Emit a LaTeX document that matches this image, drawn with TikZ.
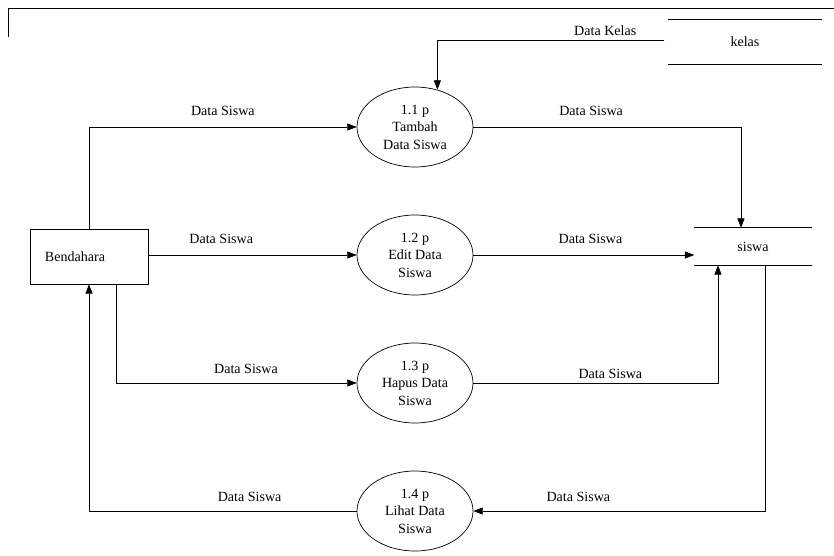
\documentclass[tikz,border=0pt]{standalone}
\usepackage{fontspec}
\setmainfont{Liberation Serif}
\usetikzlibrary{shapes.geometric,arrows.meta,calc}

\tikzset{
    proc/.style={draw, ellipse, line width=0.6pt, minimum width=3.48cm, minimum height=2.4cm, inner sep=0pt, align=center, font=\fontsize{12}{15}\selectfont},
    ext/.style={draw, rectangle, line width=0.6pt, minimum width=3.54cm, minimum height=1.65cm, inner xsep=0.45cm, text width=2.64cm, align=left, font=\fontsize{12}{15}\selectfont},
    store/.style={rectangle, inner sep=0pt, font=\fontsize{12}{15}\selectfont},
    flow/.style={line width=0.6pt, -{Triangle[length=8pt,width=6pt]}},
    lbl/.style={font=\fontsize{12}{15}\selectfont, fill=none}
}

\begin{document}
\begin{tikzpicture}[x=0.03cm, y=-0.03cm]
    \useasboundingbox (0,0) rectangle (834,555);

    % Frame at the top
    \draw[line width=0.6pt] (8,37) -- (8,8) -- (834,8);

    % Processes
    \node[proc] (p1) at (415,127) {1.1 p\\Tambah\\Data Siswa};
    \node[proc] (p2) at (415,255) {1.2 p\\Edit Data\\Siswa};
    \node[proc] (p3) at (415,383) {1.3 p\\Hapus Data\\Siswa};
    \node[proc] (p4) at (415,511) {1.4 p\\Lihat Data\\Siswa};

    % External entity
    \node[ext] (bend) at (89,256.5) {Bendahara};

    % Data stores
    \node[store, minimum width=4.59cm, minimum height=1.35cm] (kelas) at (745,42) {kelas};
    \draw[line width=0.6pt] (kelas.north west) -- (kelas.north east);
    \draw[line width=0.6pt] (kelas.south west) -- (kelas.south east);
    \node[store, minimum width=3.51cm, minimum height=1.11cm] (siswa) at (753,246.5) {siswa};
    \draw[line width=0.6pt] (siswa.north west) -- (siswa.north east);
    \draw[line width=0.6pt] (siswa.south west) -- (siswa.south east);

    % Data flows
    \draw[flow] ($(kelas.west)+(-4,-2)$) -| (p1.59) node[lbl, pos=0.13, above] {Data Kelas};
    \draw[flow] (bend.north) |- (p1.west) node[lbl, pos=0.75, above=6pt] {Data Siswa};
    \draw[flow] (bend.east |- p2.west) -- (p2.west) node[lbl, pos=0.35, above=6pt] {Data Siswa};
    \draw[flow] ($(bend.south)+(27,0)$) |- (p3.west) node[lbl, pos=0.77, above=4pt] {Data Siswa};
    \draw[flow] (p4.west) -| (bend.south) node[lbl, pos=0.2, above=4pt] {Data Siswa};
    \draw[flow] (p1.east) -| ($(siswa.north)+(-12,0)$) node[lbl, pos=0.22, above=6pt] {Data Siswa};
    \draw[flow] (p2.east) -- (p2.east -| siswa.west) node[lbl, pos=0.53, above=6pt] {Data Siswa};
    \draw[flow] (p3.east) -| ($(siswa.south)+(-35,0)$) node[lbl, pos=0.28, above] {Data Siswa};
    \draw[flow] ($(siswa.south)+(12,0)$) |- (p4.east) node[lbl, pos=0.82, above=4pt] {Data Siswa};
\end{tikzpicture}
\end{document}
